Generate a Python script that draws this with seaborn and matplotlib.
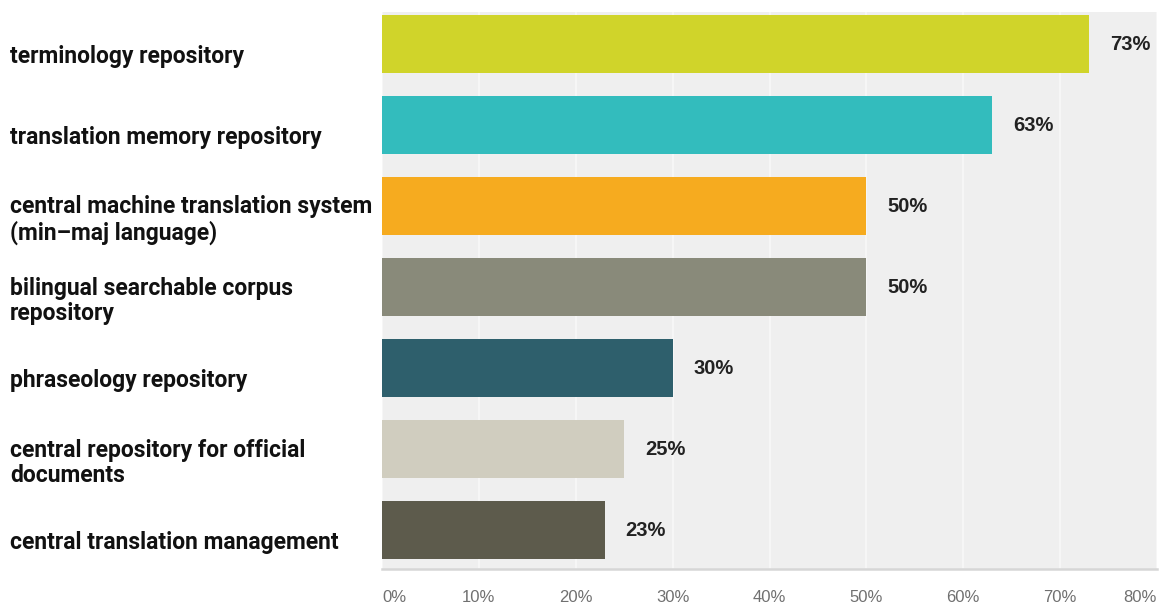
import matplotlib
matplotlib.use("Agg")
import matplotlib.pyplot as plt
import matplotlib.transforms as mtransforms
import seaborn as sns
import pandas as pd

# Survey results: share of respondents wanting each shared resource
categories = [
    "terminology repository",
    "translation memory repository",
    "central machine translation system\n(min\u2013maj language)",
    "bilingual searchable corpus\nrepository",
    "phraseology repository",
    "central repository for official\ndocuments",
    "central translation management",
]
percentages = [73, 63, 50, 50, 30, 25, 23]
bar_colors = ["#d0d42a", "#33bcbd", "#f6ab1f", "#898a7a", "#2e5f6c", "#d0cdbf", "#5d5b4c"]
x_ticks = [0, 10, 20, 30, 40, 50, 60, 70, 80]
x_tick_labels = [f"{t}%" for t in x_ticks]

df = pd.DataFrame({"category": categories, "percent": percentages})

sns.set_theme(style="white")
plt.rcParams["font.family"] = ["Liberation Sans", "DejaVu Sans"]

W, H = 1166, 606
fig = plt.figure(figsize=(W / 100, H / 100), dpi=100)
ax = fig.add_axes([382 / W, 1 - 569 / H, (1157 - 382) / W, (569 - 12) / H])
ax.set_facecolor("#efefef")

sns.barplot(
    data=df, y="category", x="percent", hue="category",
    palette=bar_colors, orient="h", dodge=False, legend=False,
    width=0.716, saturation=1, linewidth=0, ax=ax, zorder=3,
)

ax.set_xlim(0, 80)
ax.set_ylim(6.48, -0.395)
ax.set_xlabel("")
ax.set_ylabel("")

# vertical white gridlines
ax.set_xticks(x_ticks)
ax.xaxis.grid(True, color="#f9f9f9", linewidth=1.1, zorder=0)
ax.set_axisbelow(True)
ax.set_xticklabels(x_tick_labels, fontsize=12, color="#707070")
ax.tick_params(axis="x", length=0, pad=15)
xt = ax.get_xticklabels()
xt[0].set_horizontalalignment("left")
xt[-1].set_horizontalalignment("right")

for side in ["top", "left", "right"]:
    ax.spines[side].set_visible(False)
ax.spines["bottom"].set_color("#d6d6d6")
ax.spines["bottom"].set_linewidth(1.8)

# category labels, left aligned at the figure's left margin
ax.set_yticks(range(len(categories)))
ax.set_yticklabels(categories)
ax.tick_params(axis="y", length=0, pad=0)
shift = mtransforms.ScaledTranslation(0, -0.10, fig.dpi_scale_trans)
for lab in ax.get_yticklabels():
    lab.set_horizontalalignment("left")
    lab.set_family(["Roboto", "Liberation Sans", "DejaVu Sans"])
    lab.set_fontweight("bold")
    lab.set_fontsize(16.5)
    lab.set_color("#111111")
    lab.set_linespacing(1.15)
    lab.set_transform(mtransforms.blended_transform_factory(fig.transFigure, ax.transData) + shift)
    lab.set_x(10 / W)

# value labels next to each bar
for i, v in enumerate(percentages):
    ax.annotate(f"{v}%", xy=(v, i), xytext=(15, 0), textcoords="offset points",
                ha="left", va="center", fontsize=14.5, fontweight="bold", color="#222222")

fig.savefig("out.png", dpi=100, facecolor="white")
